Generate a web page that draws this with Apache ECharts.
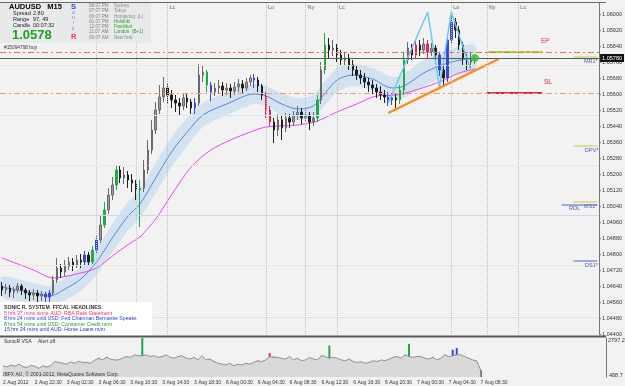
<!DOCTYPE html>
<html>
<head>
<meta charset="utf-8">
<title>AUDUSD,M15</title>
<script src="https://cdn.jsdelivr.net/npm/echarts@6/dist/echarts.min.js"></script>
<style>
html, body { margin: 0; padding: 0; background: #f2f2f2; }
#main { width: 625px; height: 386px; }
</style>
</head>
<body>
<div id="main"></div>
<script>
// candles (one candle = 2 of the original M15 bars)
var open = [1.0464,1.0462,1.0463,1.0461,1.0462,1.0464,1.0462,1.04605,1.04595,1.04605,
  1.0459,1.046,1.04585,1.04605,1.0467,1.0473,1.0471,1.0474,1.0476,1.04745,
  1.0477,1.0476,1.04795,1.0476,1.0482,1.0487,1.04945,1.0502,1.05095,1.05145,
  1.0522,1.0518,1.05195,1.0517,1.05155,1.0512,1.0513,1.0522,1.0532,1.0542,
  1.0552,1.05585,1.0563,1.05595,1.0557,1.05555,1.0554,1.0558,1.0556,1.0553,
  1.05555,1.05695,1.0571,1.05645,1.0561,1.0563,1.0564,1.0562,1.0563,1.05615,
  1.05635,1.0565,1.0563,1.0566,1.0568,1.0567,1.0564,1.05595,1.0552,1.0546,
  1.0542,1.0547,1.0543,1.0548,1.0546,1.05495,1.0551,1.0548,1.05495,1.0546,
  1.0548,1.0557,1.0572,1.05845,1.0582,1.0583,1.05795,1.0577,1.0578,1.05745,
  1.0572,1.05695,1.0568,1.0566,1.05645,1.0563,1.0561,1.05595,1.05585,1.0557,
  1.0558,1.0557,1.0562,1.0577,1.0583,1.05795,1.05845,1.0582,1.0585,1.0581,
  1.0583,1.05795,1.0572,1.0568,1.0587,1.0596,1.0592,1.05845,1.0578,1.0576,
  1.0577];
var close = [1.0462,1.0463,1.0461,1.0462,1.0464,1.0462,1.04605,1.04595,1.04605,1.0459,
  1.046,1.04585,1.04605,1.0467,1.0473,1.0471,1.0474,1.0476,1.04745,1.0477,
  1.0476,1.04795,1.0476,1.0482,1.0487,1.04945,1.0502,1.05095,1.05145,1.0522,
  1.0518,1.05195,1.0517,1.05155,1.0512,1.0513,1.0522,1.0532,1.0542,1.0552,
  1.05585,1.0563,1.05595,1.0557,1.05555,1.0554,1.0558,1.0556,1.0553,1.05555,
  1.05695,1.0571,1.05645,1.0561,1.0563,1.0564,1.0562,1.0563,1.05615,1.05635,
  1.0565,1.0563,1.0566,1.0568,1.0567,1.0564,1.05595,1.0552,1.0546,1.0542,
  1.0547,1.0543,1.0548,1.0546,1.05495,1.0551,1.0548,1.05495,1.0546,1.0548,
  1.0557,1.0572,1.05845,1.0582,1.0583,1.05795,1.0577,1.0578,1.05745,1.0572,
  1.05695,1.0568,1.0566,1.05645,1.0563,1.0561,1.05595,1.05585,1.0557,1.0558,
  1.0557,1.0562,1.0577,1.0583,1.05795,1.05845,1.0582,1.0585,1.0581,1.0583,
  1.05795,1.0572,1.0568,1.0587,1.0596,1.0592,1.05845,1.0578,1.0576,1.0577,
  1.0578];
var high = [1.0466,1.0465,1.04645,1.04635,1.04655,1.0465,1.0463,1.0462,1.04625,1.0462,
  1.04615,1.0461,1.0462,1.0469,1.0478,1.0475,1.0477,1.04785,1.0478,1.04795,
  1.048,1.04815,1.0481,1.0484,1.0489,1.04995,1.0506,1.0513,1.05185,1.05245,
  1.0524,1.05235,1.05215,1.052,1.0517,1.0517,1.0527,1.0537,1.0547,1.0556,
  1.05645,1.05685,1.0565,1.0562,1.05595,1.0558,1.05605,1.056,1.05575,1.0558,
  1.0575,1.0574,1.0572,1.0566,1.05655,1.0567,1.0566,1.05655,1.0565,1.0566,
  1.05675,1.0567,1.0568,1.05695,1.057,1.05685,1.0565,1.0561,1.0554,1.0548,
  1.055,1.0549,1.05505,1.055,1.05515,1.0554,1.0553,1.0552,1.0551,1.0551,
  1.05595,1.0576,1.05905,1.0588,1.0587,1.0585,1.0582,1.0581,1.058,1.0577,
  1.0574,1.0572,1.05705,1.0568,1.0567,1.0565,1.0564,1.0562,1.0561,1.05605,
  1.056,1.05645,1.0581,1.0586,1.0585,1.0587,1.0587,1.0588,1.0587,1.05855,
  1.05845,1.0581,1.0574,1.059,1.05995,1.0598,1.0594,1.0586,1.058,1.0581,
  1.05795];
var low = [1.0459,1.046,1.04585,1.0458,1.04605,1.04595,1.04575,1.04565,1.0457,1.0456,
  1.04565,1.04555,1.0456,1.0459,1.04655,1.0468,1.0469,1.0472,1.04715,1.0473,
  1.0473,1.04745,1.0474,1.0475,1.04805,1.04855,1.0493,1.05,1.0507,1.0512,
  1.05155,1.0515,1.0513,1.0511,1.0507,1.04935,1.0511,1.052,1.053,1.054,
  1.055,1.0556,1.0555,1.0553,1.0551,1.05495,1.0552,1.0553,1.055,1.055,
  1.0554,1.0566,1.0561,1.05565,1.0559,1.056,1.0559,1.05595,1.0558,1.05595,
  1.0561,1.056,1.05615,1.0564,1.0563,1.0561,1.0557,1.0548,1.0544,1.05355,
  1.0539,1.0537,1.0541,1.0543,1.0544,1.0547,1.0545,1.0546,1.0542,1.0544,
  1.0546,1.0555,1.057,1.0578,1.0579,1.0576,1.0574,1.05745,1.0572,1.0569,
  1.0567,1.0565,1.0563,1.0561,1.056,1.0558,1.0557,1.05555,1.0554,1.05545,
  1.0553,1.0555,1.05595,1.0575,1.0577,1.0578,1.0579,1.058,1.0578,1.0579,
  1.0576,1.0569,1.0564,1.0566,1.0585,1.0588,1.0582,1.0574,1.0572,1.0573,
  1.0575];

// SonicR VSA coloured bars: candle index, volume, colour key
var vsaBars = [[11,1100,'b'],[12,1150,'b'],[21,1080,'b'],[23,1380,'g'],[24,1610,'b'],[26,1670,'g'],
  [29,1500,'g'],[35,2797,'g'],[49,1500,'b'],[52,1550,'g'],[53,1400,'b'],[64,1450,'b'],
  [67,1900,'r'],[68,1700,'r'],[80,1750,'g'],[82,2350,'g'],[98,1650,'b'],[99,1700,'b'],
  [101,1800,'g'],[102,2450,'g'],[105,1700,'r'],[108,1650,'r'],[111,1800,'b'],
  [113,2100,'b'],[114,2200,'b'],[120,900,'k']];
var volume = [1150,1080,1200,1120,1250,1100,1050,1180,1120,1000,
  1150,1080,1150,1400,1350,1300,1250,1380,1300,1420,
  1350,1350,1300,1480,1600,1500,1650,1550,1500,1500,
  1600,1700,1650,1800,1750,1750,1800,1700,1750,1650,
  1700,1800,1650,1600,1700,1750,1600,1550,1650,1500,
  1750,1500,1550,1400,1300,1250,1200,1300,1150,1250,
  1200,1300,1250,1350,1450,1400,1500,1700,1650,1650,
  1600,1550,1700,1500,1600,1450,1500,1650,1550,1500,
  1750,1700,1600,1650,1600,1500,1450,1550,1400,1350,
  1400,1300,1350,1450,1400,1500,1450,1550,1650,1700,
  1600,1800,1700,1650,1700,1700,1600,1550,1650,1500,
  1600,1800,1700,1750,1800,1800,1700,1600,1500,1450,
  900];

// dragon band: candle index, ema high, ema close, ema low
var dragon = [[0,1.04685,1.04635,1.04585],[8,1.04655,1.04605,1.04555],[12,1.0464,1.0459,1.0454],
  [16,1.0468,1.04625,1.0457],[20,1.04735,1.04675,1.04615],[24,1.04825,1.0476,1.04695],
  [28,1.0495,1.0488,1.0481],[32,1.0506,1.0499,1.0492],[35,1.0512,1.0505,1.0498],
  [39,1.05255,1.0518,1.05105],[43,1.05385,1.0531,1.05235],[47,1.0548,1.0541,1.0534],
  [51,1.05555,1.05495,1.05435],[57,1.05605,1.0555,1.05495],[64,1.0565,1.056,1.0555],
  [67,1.0564,1.0559,1.0554],[71,1.05605,1.0555,1.05495],[75,1.0558,1.05525,1.0547],
  [79,1.05595,1.0554,1.05485],[82,1.05665,1.05605,1.05545],[85,1.0573,1.0567,1.0561],
  [89,1.0575,1.05695,1.0564],[94,1.0573,1.05675,1.0562],[99,1.05685,1.0563,1.05575],
  [102,1.057,1.0564,1.0558],[107,1.0577,1.05705,1.0564],[111,1.05805,1.0574,1.05675],
  [115,1.0583,1.05765,1.057],[120,1.05845,1.0578,1.05715]];
var ema89 = [[0,1.0478],[8,1.0472],[13,1.0468],[20,1.04705],[24,1.0473],[29,1.04805],[33,1.0486],
  [35,1.04885],[39,1.04975],[43,1.05095],[48,1.05235],[53,1.0532],[58,1.0537],[63,1.0541],
  [67,1.05435],[75,1.05445],[80,1.05465],[85,1.0551],[90,1.0555],[95,1.0559],[100,1.05595],
  [105,1.0562],[111,1.0566],[116,1.05705],[120,1.05725]];
var zigzag = [[98,1.05555],[108,1.0601],[111,1.05635],[114,1.0601],[119,1.05715]];
var trendLine = [[98,1.05505],[126,1.05775]];
var entryPrice = 1.0581, stopPrice = 1.05605, bidPrice = 1.0578;
var tradeFrom = 123, tradeTo = 137;

// pivot levels on the right: label, price, start index, colour
var pivots = [['MR1*',1.05785,145,'#c9c93a'],['DPV*',1.0534,145,'#c9c93a'],
  ['MS1*',1.05045,142,'#5560c8'],['',1.0506,145,'#c9c93a'],['DS1*',1.04765,145,'#5560c8']];
var faintLevels = [[1.05745,'#e8dfb0','dotted'],[1.05495,'#d0eaf2','solid'],[1.05245,'#e8dfb0','dotted'],
  [1.04995,'#d9d4ee','solid'],[1.04745,'#e8dfb0','dotted'],[1.04485,'#d0eaf2','solid']];

// session markers and plain dotted verticals (candle index)
var sessions = [[42,'Lc'],[67,'Lo'],[77,'Ny'],[85,'Lc'],[114,'Lo'],[123,'Ny'],[131,'Lc']];
var plainVerticals = [24, 34];

var timeLabels = ['2 Aug 2012','2 Aug 22:30','3 Aug 02:30','3 Aug 06:30','3 Aug 10:30','3 Aug 14:30',
  '3 Aug 18:30','6 Aug 00:30','6 Aug 04:30','6 Aug 08:30','6 Aug 12:30','6 Aug 16:30',
  '6 Aug 20:30','7 Aug 00:30','7 Aug 04:30','7 Aug 08:30'];
var volAxisLabels = ['2797.2', '488.7'];

var clockTimes = ['08:07 PM','07:07 PM','06:07 PM','01:07 PM','12:07 PM','11:07 AM','06:07 AM'];
var clockCities = ['Sydney','Tokyo','Hongkong  (L)','Helsinki','Frankfurt','London  (B+1)','NewYork'];
var cityOpen = [false,false,false,true,true,true,false];
var headlines = [
  ['SONIC R. SYSTEM  FFCAL HEADLINES:', '#333333'],
  ['5 hrs 37 mins since AUD: RBA Rate Statement', '#f0306a'],
  ['8 hrs 24 mins until USD: Fed Chairman Bernanke Speaks', '#2d3fd0'],
  ['8 hrs 54 mins until USD: Consumer Credit m/m', '#1c9c1c'],
  ['15 hrs 24 mins until AUD: Home Loans m/m', '#2d2dc8']
];

var SLOTS = 152;
var FONT = 'Liberation Sans, Arial, sans-serif';
var colorOf = { g: '#20a84a', b: '#3549d6', r: '#e5245c', k: '#222222' };

var cats = [];
for (var i = 0; i < SLOTS; i++) cats.push(String(i));

var vsaKey = {};
vsaBars.forEach(function (v) { vsaKey[v[0]] = v[2]; });

var candles = open.map(function (o, i) {
  var item = { value: [o, close[i], low[i], high[i]] };
  var k = vsaKey[i];
  if (k && k !== 'k') {
    var c = colorOf[k];
    item.itemStyle = { color: c, color0: c, borderColor: c, borderColor0: c };
  }
  return item;
});

var marks = [
  { yAxis: entryPrice, lineStyle: { color: '#ec6d4e', type: [6, 3, 2, 3], width: 1 } },
  { yAxis: stopPrice, lineStyle: { color: '#f29a6a', type: [6, 3, 2, 3], width: 1 } }
];
faintLevels.forEach(function (f) {
  marks.push({ yAxis: f[0], lineStyle: { color: f[1], type: f[2], width: 1 } });
});
sessions.forEach(function (s) {
  marks.push({ xAxis: s[0], lineStyle: { color: '#bdbdbd', type: 'dotted', width: 1 } });
});
plainVerticals.forEach(function (v) {
  marks.push({ xAxis: v, lineStyle: { color: '#c6c6c6', type: 'dotted', width: 1 } });
});
marks.push({
  yAxis: bidPrice,
  lineStyle: { color: '#5a5a5a', type: 'solid', width: 1 },
  label: {
    show: true, position: 'end', distance: 1,
    formatter: bidPrice.toFixed(5),
    color: '#fff', backgroundColor: '#111', fontSize: 5.5, padding: [1, 2], fontFamily: FONT
  }
});

var series = [
  {
    type: 'custom', xAxisIndex: 0, yAxisIndex: 0, data: [0], z: 1, silent: true,
    renderItem: function (params, api) {
      var up = dragon.map(function (d) { return api.coord([d[0], d[1]]); });
      var lo = dragon.map(function (d) { return api.coord([d[0], d[3]]); }).reverse();
      return {
        type: 'polygon',
        shape: { points: up.concat(lo), smooth: 0.25 },
        style: { fill: 'rgba(170,207,240,0.45)' }
      };
    }
  },
  {
    type: 'line', data: dragon.map(function (d) { return [d[0], d[2]]; }), smooth: 0.3,
    symbol: 'none', lineStyle: { color: '#5a84d6', width: 1 }, z: 2
  },
  {
    type: 'line', data: ema89, smooth: 0.3, symbol: 'none',
    lineStyle: { color: '#ee44ee', width: 1 }, z: 2,
    markLine: { symbol: 'none', silent: true, animation: false, precision: 5, label: { show: false }, data: marks }
  },
  {
    type: 'candlestick', data: candles, barWidth: 2, z: 3,
    itemStyle: { color: '#9c9c9c', color0: '#1e1e1e', borderColor: '#6a6a6a', borderColor0: '#1e1e1e', borderWidth: 1 }
  },
  {
    type: 'line', data: zigzag, symbol: 'none', z: 4,
    lineStyle: { color: '#6cc8ec', width: 1.5 }
  },
  {
    type: 'line', data: trendLine, symbol: 'none', z: 4,
    lineStyle: { color: '#ff8a1c', width: 2.5 }
  },
  {
    type: 'line', data: [[tradeFrom, entryPrice], [tradeTo, entryPrice]], symbol: 'none', z: 4,
    lineStyle: { color: '#b5d335', width: 2 }
  },
  {
    type: 'line', data: [[tradeFrom, stopPrice], [tradeTo, stopPrice]], symbol: 'none', z: 4,
    lineStyle: { color: '#e0204a', width: 2 }
  },
  {
    type: 'scatter', data: [[close.length - 1, bidPrice]], symbolSize: 7, z: 5,
    itemStyle: { color: '#22d422', borderColor: '#18a018', borderWidth: 0.5 }
  },
  {
    type: 'line', xAxisIndex: 1, yAxisIndex: 1, data: volume, symbol: 'none',
    lineStyle: { color: '#8f8f8f', width: 1 }, areaStyle: { color: '#d9d9d9', opacity: 1 }
  },
  {
    type: 'bar', xAxisIndex: 1, yAxisIndex: 1, barWidth: 2,
    data: vsaBars.map(function (v) { return { value: [v[0], v[1]], itemStyle: { color: colorOf[v[2]] } }; })
  }
];
pivots.forEach(function (p) {
  series.push({
    type: 'line', data: [[p[2], p[1]], [SLOTS - 1, p[1]]], symbol: 'none', z: 4,
    lineStyle: { color: p[3], width: 1 }
  });
});

// text overlays
var graphics = [
  { type: 'rect', shape: { x: 0, y: 3, width: 151, height: 40 }, style: { fill: '#e8e9eb' }, z: 50 },
  { type: 'rect', shape: { x: 0, y: 302, width: 152, height: 34 }, style: { fill: '#ffffff' }, z: 50 },
  { type: 'line', shape: { x1: 0, y1: 2.5, x2: 606, y2: 2.5 }, style: { stroke: '#6a6a6a', lineWidth: 1 }, z: 50 },
  { type: 'line', shape: { x1: 0, y1: 336.5, x2: 606, y2: 336.5 }, style: { stroke: '#5a5a5a', lineWidth: 2 }, z: 50 }
];
function txt(x, y, s, color, size, weight) {
  graphics.push({
    type: 'text', x: x, y: y, z: 60,
    style: { text: s, fill: color, fontSize: size, fontWeight: weight || 'normal', fontFamily: FONT, verticalAlign: 'middle' }
  });
}
txt(9, 6.5, 'AUDUSD   M15', '#000', 7.5, 'bold');
txt(13, 13.5, 'Spread', '#222', 5.5); txt(33, 13.5, '2.80', '#222', 5.5);
txt(13, 19.5, 'Range', '#222', 5.5); txt(33, 19.5, '97, 49', '#222', 5.5);
txt(13, 25.5, 'Candle', '#222', 5.5); txt(33, 25.5, '00:07:32', '#222', 5.5);
txt(12, 35.5, '1.0578', '#1ea31e', 13, 'bold');
txt(71, 6.5, 'S', '#2a4bd0', 7.5, 'bold');
txt(72, 12.5, 'o', '#6f80c4', 5); txt(72, 17.5, 'n', '#6f80c4', 5);
txt(73, 22.7, 'i', '#9a9a9a', 5); txt(72, 28.3, 'c', '#e04080', 5);
txt(71, 36.5, 'R', '#ff2d6f', 7.5, 'bold');
clockTimes.forEach(function (t, i) {
  var y = 5.7 + i * 5.27;
  txt(89, y, t, '#808080', 4.6);
  txt(114, y, clockCities[i], cityOpen[i] ? '#2aa02a' : '#888', 4.6);
});
txt(4, 47.5, '#15094798 buy', '#333', 4.8);
headlines.forEach(function (h, i) {
  txt(4, 307.5 + i * 5.6, h[0], h[1], 5.2, i === 0 ? 'bold' : 'normal');
});
txt(4, 342, 'SonicR VSA', '#333', 5);
txt(38, 342, 'Alert off.', '#333', 5);
txt(3, 374.5, 'IBFX AU, \u00a9 2001-2012, MetaQuotes Software Corp.', '#333', 5);
txt(608, 340, volAxisLabels[0], '#333', 5.5);
txt(609, 375, volAxisLabels[1], '#333', 5.5);
txt(541, 41, 'EP', '#e8708e', 6.5, 'bold');
txt(544, 82, 'SL', '#e05a7a', 6.5, 'bold');
txt(584, 61, 'MR1*', '#4b5db0', 5.5);
txt(585, 150, 'DPV*', '#4b5db0', 5.5);
txt(569, 208.5, 'RDL', '#4b5db0', 5.5);
txt(584, 206.5, 'MS1*', '#4b5db0', 5.5);
txt(585, 265, 'DS1*', '#4b5db0', 5.5);

var chart = echarts.init(document.getElementById('main'));
chart.setOption({
  animation: false,
  backgroundColor: '#f2f2f2',
  grid: [
    { left: 0, right: 19, top: 3, bottom: 52 },
    { left: 0, right: 19, top: 338, bottom: 9 }
  ],
  xAxis: [
    { type: 'category', gridIndex: 0, data: cats, axisLine: { show: false }, axisTick: { show: false },
      axisLabel: { show: false }, splitLine: { show: false } },
    { type: 'category', gridIndex: 1, data: cats, axisLine: { show: false }, axisTick: { show: false },
      axisLabel: {
        interval: 7, align: 'left', fontSize: 5, color: '#333', margin: 3, fontFamily: FONT,
        formatter: function (v, i) { return timeLabels[i / 8] || ''; }
      },
      splitLine: { show: false } }
  ],
  yAxis: [
    { type: 'value', gridIndex: 0, position: 'right', min: 1.0440, max: 1.06055, interval: 0.0008,
      axisLine: { show: true, lineStyle: { color: '#777' } },
      axisTick: { show: true, length: 2, lineStyle: { color: '#777' } },
      axisLabel: { fontSize: 5.5, color: '#333', margin: 3, showMaxLabel: false, fontFamily: FONT,
        formatter: function (v) { return v.toFixed(5); } },
      splitLine: { show: false } },
    { type: 'value', gridIndex: 1, position: 'right', min: 488.7, max: 2797.2,
      axisLine: { show: true, lineStyle: { color: '#777' } }, axisTick: { show: false },
      axisLabel: { show: false }, splitLine: { show: false } }
  ],
  series: series,
  graphic: graphics
});

sessions.forEach(function (s) {
  var px = chart.convertToPixel({ xAxisIndex: 0 }, s[0]);
  graphics.push({
    type: 'text', x: px + 2, y: 7, z: 60,
    style: { text: s[1], fill: '#666', fontSize: 5.5, fontFamily: FONT, verticalAlign: 'middle' }
  });
});
chart.setOption({ graphic: graphics });
</script>
</body>
</html>
